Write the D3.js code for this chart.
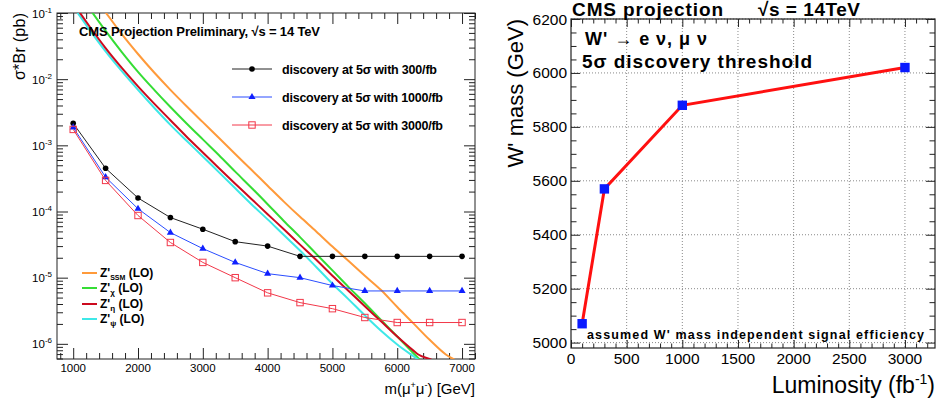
<!DOCTYPE html>
<html><head><meta charset="utf-8">
<script src="https://cdn.jsdelivr.net/npm/d3@7"></script>
<style>body{margin:0;background:#fff} text{font-family:"Liberation Sans",Arial,Helvetica,sans-serif}</style>
</head><body><svg id="c" width="936" height="406"></svg>
<script>
// ---------- LEFT PANEL DATA ----------
const discMass = [1000,1500,2000,2500,3000,3500,4000,4500,5000,5500,6000,6500,7000];
const disc300  = [2.15e-3,4.5e-4,1.6e-4,8.1e-5,5.4e-5,3.5e-5,3.0e-5,2.1e-5,2.1e-5,2.1e-5,2.1e-5,2.1e-5,2.1e-5];
const disc1000 = [1.87e-3,3.3e-4,1.1e-4,4.8e-5,2.75e-5,1.7e-5,1.15e-5,1.0e-5,7.6e-6,6.3e-6,6.3e-6,6.3e-6,6.3e-6];
const disc3000 = [1.74e-3,2.95e-4,8.7e-5,3.4e-5,1.7e-5,1.0e-5,5.9e-6,4.2e-6,3.4e-6,2.5e-6,2.1e-6,2.1e-6,2.1e-6];

const massSSM = [1250,1500,1750,2000,2250,2500,2750,3000,3250,3500,3750,4000,4250,4500,4750,5000,5250,5500,5750,6000,6250,6500,6750,7000];
const sigSSM  = [0.204,0.102,0.0479,0.0240,0.0126,6.9e-3,3.9e-3,2.24e-3,1.29e-3,7.4e-4,4.27e-4,2.45e-4,1.41e-4,8.3e-5,5.0e-5,2.95e-5,1.78e-5,1.07e-5,6.5e-6,3.6e-6,2.04e-6,1.15e-6,6.9e-7,5.1e-7];
const massChi = [1250,1500,1750,2000,2250,2500,2750,3000,3250,3500,3750,4000,4250,4500,4750,5000,5250,5500,5750,6000,6250,6500];
const sigChi  = [0.117,0.0537,0.0257,0.0129,6.9e-3,3.8e-3,2.14e-3,1.23e-3,7.1e-4,4.0e-4,2.29e-4,1.29e-4,7.2e-5,4.1e-5,2.29e-5,1.29e-5,7.2e-6,4.1e-6,2.29e-6,1.29e-6,7.2e-7,4.1e-7];
const massEta = [1000,1250,1500,1750,2000,2250,2500,2750,3000,3250,3500,3750,4000,4250,4500,4750,5000,5250,5500,5750,6000,6250,6325,6500,6600];
const sigEta  = [0.141,0.0631,0.0295,0.0148,7.8e-3,4.27e-3,2.4e-3,1.35e-3,7.8e-4,4.5e-4,2.63e-4,1.55e-4,9.1e-5,5.4e-5,3.16e-5,1.86e-5,1.07e-5,6.3e-6,3.7e-6,2.19e-6,1.29e-6,7.9e-7,6.9e-7,5.9e-7,5.4e-7];
const massPsi = [1000,1250,1500,1750,2000,2250,2500,2750,3000,3250,3500,3750,4000,4250,4500,4750,5000,5250,5500,5750,6000,6250,6500];
const sigPsi  = [0.126,0.0562,0.0263,0.0132,6.9e-3,3.7e-3,2.04e-3,1.17e-3,6.8e-4,3.9e-4,2.24e-4,1.29e-4,7.6e-5,4.4e-5,2.57e-5,1.45e-5,8.1e-6,4.7e-6,2.69e-6,1.58e-6,9.8e-7,6.5e-7,4.4e-7];

const leftXTicks = [1000,2000,3000,4000,5000,6000,7000];
const leftYTicks = [1e-6,1e-5,1e-4,1e-3,1e-2,1e-1];
const leftYExp   = ["-6","-5","-4","-3","-2","-1"];
const discLabels = ["discovery at 5\u03C3 with 300/fb","discovery at 5\u03C3 with 1000/fb","discovery at 5\u03C3 with 3000/fb"];
const modelSubs  = ["SSM","\u03C7","\u03B7","\u03C8"];

// ---------- RIGHT PANEL DATA ----------
const lumi  = [100,300,1000,3000];
const wmass = [5070,5570,5880,6020];
const rightXTicks = [0,500,1000,1500,2000,2500,3000];
const rightYTicks = [5000,5200,5400,5600,5800,6000,6200];

const svg = d3.select("#c");
svg.append("rect").attr("width",936).attr("height",406).attr("fill","#fff");

// ================= LEFT =================
const xL = d3.scaleLinear().domain([750,7200]).range([57,475]);
const yL = d3.scaleLog().domain([5.9e-7,0.1]).range([359,13]);
const L = svg.append("g");
svg.append("defs").append("clipPath").attr("id","clipL").append("rect")
  .attr("x",57).attr("y",13).attr("width",418).attr("height",346);

function noDomain(g){ g.select(".domain").remove(); g.selectAll("line").attr("stroke","#222"); }
const yMinor = yL.ticks().filter(v => !leftYTicks.includes(v));
const xMinor = d3.range(800,7201,200).filter(v => !leftXTicks.includes(v));
L.append("g").attr("transform","translate(57,0)").call(d3.axisLeft(yL).tickValues(leftYTicks).tickSize(-11).tickFormat("")).call(noDomain);
L.append("g").attr("transform","translate(57,0)").call(d3.axisLeft(yL).tickValues(yMinor).tickSize(-6).tickFormat("")).call(noDomain);
L.append("g").attr("transform","translate(475,0)").call(d3.axisRight(yL).tickValues(leftYTicks).tickSize(-11).tickFormat("")).call(noDomain);
L.append("g").attr("transform","translate(475,0)").call(d3.axisRight(yL).tickValues(yMinor).tickSize(-6).tickFormat("")).call(noDomain);
L.append("g").attr("transform","translate(0,359)").call(d3.axisBottom(xL).tickValues(leftXTicks).tickSize(-11).tickFormat("")).call(noDomain);
L.append("g").attr("transform","translate(0,359)").call(d3.axisBottom(xL).tickValues(xMinor).tickSize(-6).tickFormat("")).call(noDomain);
L.append("g").attr("transform","translate(0,13)").call(d3.axisTop(xL).tickValues(leftXTicks).tickSize(-11).tickFormat("")).call(noDomain);
L.append("g").attr("transform","translate(0,13)").call(d3.axisTop(xL).tickValues(xMinor).tickSize(-6).tickFormat("")).call(noDomain);
L.append("rect").attr("x",57).attr("y",13).attr("width",418).attr("height",346).attr("fill","none").attr("stroke","#222").attr("stroke-width",1);

// tick labels
leftYTicks.forEach((v,i)=>{
  const t = L.append("text").attr("x",52).attr("y",yL(v)+4.5).attr("text-anchor","end").attr("font-size",11.5);
  t.append("tspan").text("10");
  t.append("tspan").attr("dy",-5).attr("font-size",8).text(leftYExp[i]);
});
leftXTicks.forEach(v=>{
  L.append("text").attr("x",xL(v)).attr("y",372).attr("text-anchor","middle").attr("font-size",11.5).text(v);
});
// x title
{
  const t = L.append("text").attr("x",475).attr("y",394).attr("text-anchor","end").attr("font-size",15);
  t.append("tspan").text("m(\u03BC");
  t.append("tspan").attr("dy",-6).attr("font-size",9).text("+");
  t.append("tspan").attr("dy",6).text("\u03BC");
  t.append("tspan").attr("dy",-6).attr("font-size",9).text("-");
  t.append("tspan").attr("dy",6).text(") [GeV]");
}
L.append("text").attr("transform","translate(25,13) rotate(-90)").attr("text-anchor","end").attr("font-size",16).attr("textLength",67).text("\u03C3*Br (pb)");

// theory curves
const models = [
  {m:massSSM,s:sigSSM,c:"#ff9a3a"},
  {m:massChi,s:sigChi,c:"#35dd35"},
  {m:massEta,s:sigEta,c:"#cc0a1e"},
  {m:massPsi,s:sigPsi,c:"#3ee8e8"}
];
const lineL = d3.line().x(d=>xL(d[0])).y(d=>yL(d[1])).curve(d3.curveMonotoneX);
const gC = L.append("g").attr("clip-path","url(#clipL)");
[models[0],models[1],models[3],models[2]].forEach(md=>{
  gC.append("path").attr("d",lineL(md.m.map((m,i)=>[m,md.s[i]]))).attr("fill","none").attr("stroke",md.c).attr("stroke-width",2);
});

// discovery curves
const lineD = d3.line().x(d=>xL(d[0])).y(d=>yL(d[1]));
const discs = [
  {v:disc300,c:"#222",mk:"circle"},
  {v:disc1000,c:"#2a4dff",mk:"tri"},
  {v:disc3000,c:"#f2384a",mk:"sq"}
];
function marker(g,type,x,y,c){
  if(type==="circle") g.append("circle").attr("cx",x).attr("cy",y).attr("r",2.8).attr("fill","#000");
  else if(type==="tri") g.append("path").attr("d",d3.symbol(d3.symbolTriangle,22)()).attr("transform",`translate(${x},${y})`).attr("fill","#1020ff");
  else g.append("rect").attr("x",x-3.2).attr("y",y-3.2).attr("width",6.4).attr("height",6.4).attr("fill","none").attr("stroke",c).attr("stroke-width",1);
}
const gD = L.append("g").attr("clip-path","url(#clipL)");
discs.forEach(d=>{
  const pts = discMass.map((m,i)=>[m,d.v[i]]);
  gD.append("path").attr("d",lineD(pts)).attr("fill","none").attr("stroke",d.c).attr("stroke-width",1);
  pts.forEach(p=>marker(gD,d.mk,xL(p[0]),yL(p[1]),d.c));
});

// title
L.append("text").attr("x",79).attr("y",36).attr("font-size",13).attr("font-weight","bold").attr("textLength",241)
  .text("CMS Projection Preliminary, \u221As = 14 TeV");
// discovery legend
const discLegY = [69,97,125];
const discLegW = [155,161,161];
discs.forEach((d,i)=>{
  L.append("line").attr("x1",232).attr("x2",272).attr("y1",discLegY[i]).attr("y2",discLegY[i]).attr("stroke",d.c).attr("stroke-width",1);
  marker(L,d.mk,252,discLegY[i],d.c);
  L.append("text").attr("x",282).attr("y",discLegY[i]+4.5).attr("font-size",12.5).attr("font-weight","bold").attr("textLength",discLegW[i]).text(discLabels[i]);
});
// model legend
const modLegY = [273,288,304,319];
models.forEach((md,i)=>{
  L.append("line").attr("x1",82).attr("x2",97).attr("y1",modLegY[i]).attr("y2",modLegY[i]).attr("stroke",md.c).attr("stroke-width",2);
  const t = L.append("text").attr("x",100).attr("y",modLegY[i]+4).attr("font-size",12).attr("font-weight","bold");
  t.append("tspan").text("Z'");
  t.append("tspan").attr("dy",3).attr("font-size",i===0?7:8).text(modelSubs[i]);
  t.append("tspan").attr("dy",-3).text(" (LO)");
});

// ================= RIGHT =================
const xR = d3.scaleLinear().domain([0,3270]).range([571,935]);
const yR = d3.scaleLinear().domain([4980,6200]).range([348,19]);
const R = svg.append("g");
rightXTicks.filter(v=>v>0).forEach(v=>{
  R.append("line").attr("x1",xR(v)).attr("x2",xR(v)).attr("y1",19).attr("y2",348).attr("stroke","#8a8a8a").attr("stroke-dasharray","1,2");
});
rightYTicks.forEach(v=>{
  R.append("line").attr("x1",571).attr("x2",935).attr("y1",yR(v)).attr("y2",yR(v)).attr("stroke","#8a8a8a").attr("stroke-dasharray","1,2");
});
const rxMinor = d3.range(100,3270,100).filter(v=>v%500!==0);
const ryMinor = d3.range(5000,6200,50).filter(v=>v%200!==0);
R.append("g").attr("transform","translate(0,348)").call(d3.axisBottom(xR).tickValues(rightXTicks).tickSize(-8).tickFormat("")).call(noDomain);
R.append("g").attr("transform","translate(0,348)").call(d3.axisBottom(xR).tickValues(rxMinor).tickSize(-4.5).tickFormat("")).call(noDomain);
R.append("g").attr("transform","translate(0,19)").call(d3.axisTop(xR).tickValues(rightXTicks).tickSize(-8).tickFormat("")).call(noDomain);
R.append("g").attr("transform","translate(0,19)").call(d3.axisTop(xR).tickValues(rxMinor).tickSize(-4.5).tickFormat("")).call(noDomain);
R.append("g").attr("transform","translate(571,0)").call(d3.axisLeft(yR).tickValues(rightYTicks).tickSize(-9).tickFormat("")).call(noDomain);
R.append("g").attr("transform","translate(571,0)").call(d3.axisLeft(yR).tickValues(ryMinor).tickSize(-5.5).tickFormat("")).call(noDomain);
R.append("g").attr("transform","translate(935,0)").call(d3.axisRight(yR).tickValues(rightYTicks).tickSize(-9).tickFormat("")).call(noDomain);
R.append("g").attr("transform","translate(935,0)").call(d3.axisRight(yR).tickValues(ryMinor).tickSize(-5.5).tickFormat("")).call(noDomain);
R.append("rect").attr("x",571).attr("y",19).attr("width",364).attr("height",329).attr("fill","none").attr("stroke","#222").attr("stroke-width",1.2);

rightXTicks.forEach(v=>{
  R.append("text").attr("x",xR(v)).attr("y",364).attr("text-anchor","middle").attr("font-size",15.5).text(v);
});
rightYTicks.forEach(v=>{
  R.append("text").attr("x",567).attr("y",yR(v)+5.5).attr("text-anchor","end").attr("font-size",15.5).text(v);
});
{
  const t = R.append("text").attr("x",935).attr("y",393).attr("text-anchor","end").attr("font-size",23);
  t.append("tspan").text("Luminosity (fb");
  t.append("tspan").attr("dy",-9).attr("font-size",14).text("-1");
  t.append("tspan").attr("dy",9).text(")");
}
R.append("text").attr("transform","translate(523,19) rotate(-90)").attr("text-anchor","end").attr("font-size",22).text("W' mass (GeV)");

const lineR = d3.line().x(d=>xR(d[0])).y(d=>yR(d[1]));
const ptsR = lumi.map((l,i)=>[l,wmass[i]]);
R.append("path").attr("d",lineR(ptsR)).attr("fill","none").attr("stroke","#ff1010").attr("stroke-width",3);
ptsR.forEach(p=>{
  R.append("rect").attr("x",xR(p[0])-4.7).attr("y",yR(p[1])-4.7).attr("width",9.4).attr("height",9.4).attr("fill","#0a1aff");
});

R.append("text").attr("x",572).attr("y",16).attr("font-size",19).attr("font-weight","bold").attr("textLength",151).text("CMS projection");
R.append("text").attr("x",758).attr("y",16).attr("font-size",19).attr("font-weight","bold").attr("textLength",102).text("\u221As = 14TeV");
R.append("text").attr("x",585).attr("y",45).attr("font-size",18).attr("font-weight","bold").attr("textLength",122).text("W' \u2192 e \u03BD, \u03BC \u03BD");
R.append("text").attr("x",582).attr("y",68).attr("font-size",19).attr("font-weight","bold").attr("textLength",230).text("5\u03C3 discovery threshold");
R.append("text").attr("x",587).attr("y",339).attr("font-size",12.5).attr("font-weight","bold").attr("textLength",337).text("assumed W' mass independent signal efficiency");
</script></body></html>
